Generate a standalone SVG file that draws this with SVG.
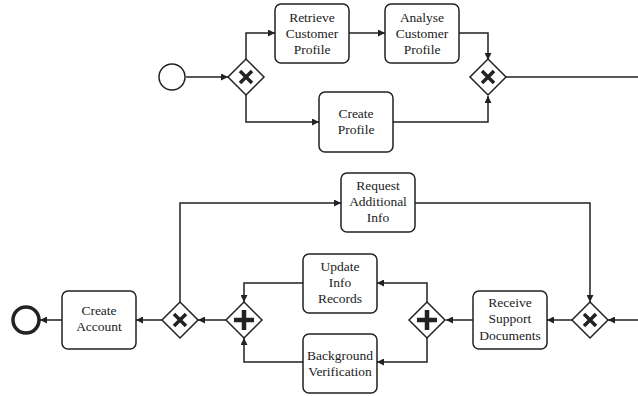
<svg xmlns="http://www.w3.org/2000/svg" width="638" height="396" viewBox="0 0 638 396">
<style>
.task{fill:#fff;stroke:#222;stroke-width:1.5}
.gw{fill:#fff;stroke:#222;stroke-width:1.5}
.mark{stroke:#222;stroke-width:3.5;fill:none}
.plus{stroke:#222;stroke-width:4.5;fill:none}
.ev{fill:#fff;stroke:#222;stroke-width:1.5}
.end{fill:#fff;stroke:#222;stroke-width:3.5}
.c{fill:none;stroke:#222;stroke-width:1.5;marker-end:url(#ah)}
.t{font-family:'Liberation Serif','DejaVu Serif',serif;font-size:13.5px;fill:#222;text-anchor:middle}
</style>
<defs>
<marker id="ah" viewBox="0 0 10 10" refX="10" refY="5" markerWidth="7" markerHeight="7" markerUnits="userSpaceOnUse" orient="auto">
<path d="M0,0 L10,5 L0,10 z" fill="#222"/>
</marker>
</defs>
<rect width="638" height="396" fill="#fff"/>
<g id="connectors">
<path class="c" d="M186,77 H228"/>
<path class="c" d="M246,59 V33 H275"/>
<path class="c" d="M246,95 V122 H319"/>
<path class="c" d="M349,33 H385"/>
<path class="c" d="M459,33 H488 V60"/>
<path class="c" d="M393,122 H488 V96"/>
<path d="M506,77 H638" fill="none" stroke="#222" stroke-width="1.5"/>
<path class="c" d="M638,320 H608"/>
<path class="c" d="M572,320 H547"/>
<path class="c" d="M473,320 H446"/>
<path class="c" d="M427,302 V283 H377"/>
<path class="c" d="M427,338 V362 H377"/>
<path class="c" d="M303,283 H244 V302"/>
<path class="c" d="M303,362 H244 V338"/>
<path class="c" d="M226,320 H198"/>
<path class="c" d="M162,320 H136"/>
<path class="c" d="M62,320 H40"/>
<path class="c" d="M180,302 V203 H341"/>
<path class="c" d="M415,203 H590 V302"/>
</g>
<g id="start"><circle class="ev" cx="172" cy="77" r="13"/></g>
<g id="gw1"><path class="gw" d="M246,59 L264,77 L246,95 L228,77 z"/><path class="mark" d="M240,71 L252,83 M252,71 L240,83"/></g>
<g id="retrieve"><rect class="task" x="275" y="4" width="74" height="59" rx="6"/><text class="t" font-family="Liberation Serif, serif" x="312" y="22">Retrieve</text><text class="t" x="312" y="38">Customer</text><text class="t" x="312" y="54">Profile</text></g>
<g id="analyse"><rect class="task" x="385" y="4" width="74" height="59" rx="6"/><text class="t" x="422" y="22">Analyse</text><text class="t" x="422" y="38">Customer</text><text class="t" x="422" y="54">Profile</text></g>
<g id="createProfile"><rect class="task" x="319" y="92" width="74" height="60" rx="6"/><text class="t" x="356" y="118">Create</text><text class="t" x="356" y="134">Profile</text></g>
<g id="gw2"><path class="gw" d="M488,59 L506,77 L488,95 L470,77 z"/><path class="mark" d="M482,71 L494,83 M494,71 L482,83"/></g>
<g id="end"><circle class="end" cx="26" cy="320" r="13"/></g>
<g id="createAccount"><rect class="task" x="62" y="291" width="74" height="58" rx="6"/><text class="t" x="99" y="315">Create</text><text class="t" x="99" y="331">Account</text></g>
<g id="gw3"><path class="gw" d="M180,302 L198,320 L180,338 L162,320 z"/><path class="mark" d="M174,314 L186,326 M186,314 L174,326"/></g>
<g id="gw4"><path class="gw" d="M244,302 L262,320 L244,338 L226,320 z"/><path class="plus" d="M244,310 V330 M234,320 H254"/></g>
<g id="update"><rect class="task" x="303" y="254" width="74" height="59" rx="6"/><text class="t" x="340" y="271">Update</text><text class="t" x="340" y="287">Info</text><text class="t" x="340" y="303">Records</text></g>
<g id="background"><rect class="task" x="303" y="334" width="74" height="59" rx="6"/><text class="t" x="340" y="360">Background</text><text class="t" x="340" y="376">Verification</text></g>
<g id="gw5"><path class="gw" d="M427,302 L445,320 L427,338 L409,320 z"/><path class="plus" d="M427,310 V330 M417,320 H437"/></g>
<g id="receive"><rect class="task" x="473" y="291" width="74" height="58" rx="6"/><text class="t" x="510" y="307">Receive</text><text class="t" x="510" y="323">Support</text><text class="t" x="510" y="340">Documents</text></g>
<g id="gw6"><path class="gw" d="M590,302 L608,320 L590,338 L572,320 z"/><path class="mark" d="M584,314 L596,326 M596,314 L584,326"/></g>
<g id="request"><rect class="task" x="341" y="173" width="74" height="59" rx="6"/><text class="t" x="378" y="190">Request</text><text class="t" x="378" y="206">Additional</text><text class="t" x="378" y="222">Info</text></g>
</svg>
